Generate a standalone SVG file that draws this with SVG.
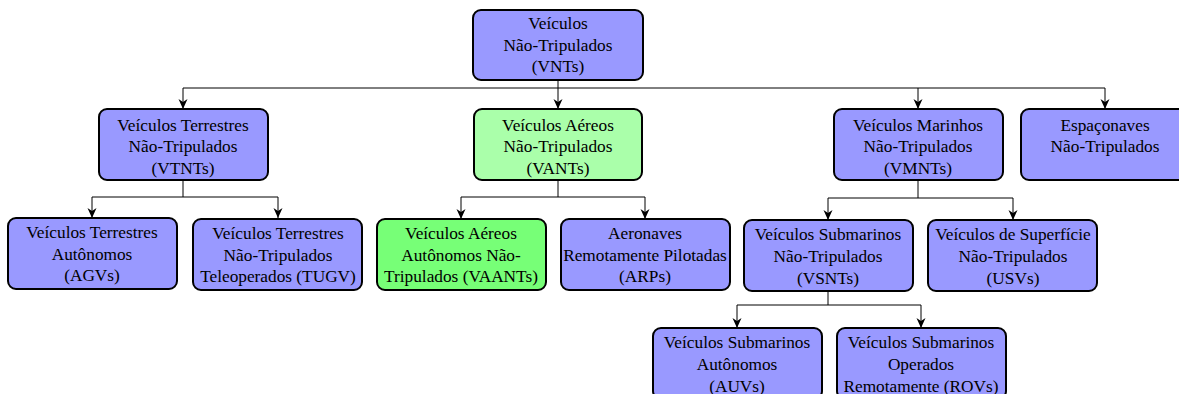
<svg xmlns="http://www.w3.org/2000/svg" width="1179" height="394" viewBox="0 0 1179 394">
  <style>
    .box { stroke: #000; stroke-width: 2; }
    .blue { fill: #9999ff; }
    .lgreen { fill: #aaffaa; }
    .green { fill: #77ff77; }
    .lbl { font-family: "Liberation Serif", "Times New Roman", serif; font-size: 17.3px; fill: #000; text-anchor: middle; }
    .wire { fill: none; stroke: #000; stroke-width: 1; }
  </style>
  <defs>
    <marker id="tip" markerUnits="userSpaceOnUse" markerWidth="10" markerHeight="12" viewBox="-5 -11 10 12" refX="0" refY="0" orient="0">
      <path d="M0,0 L-4.5,-10 L0,-7 L4.5,-10 Z" fill="#000"/>
    </marker>
  </defs>

  <rect width="1179" height="394" fill="#fff"/>

  <!-- connectors -->
  <g id="connectors">
    <path class="wire" d="M558,80 V88 M183,88 H1105"/>
    <path class="wire" d="M183,88 V109" marker-end="url(#tip)"/>
    <path class="wire" d="M558,88 V109" marker-end="url(#tip)"/>
    <path class="wire" d="M918,88 V109" marker-end="url(#tip)"/>
    <path class="wire" d="M1105,88 V109" marker-end="url(#tip)"/>

    <path class="wire" d="M183,180 V197 M92,197 H278"/>
    <path class="wire" d="M92,197 V218" marker-end="url(#tip)"/>
    <path class="wire" d="M278,197 V218" marker-end="url(#tip)"/>

    <path class="wire" d="M558,180 V197 M461,197 H645"/>
    <path class="wire" d="M461,197 V219" marker-end="url(#tip)"/>
    <path class="wire" d="M645,197 V219" marker-end="url(#tip)"/>

    <path class="wire" d="M918,180 V198 M828,198 H1013"/>
    <path class="wire" d="M828,198 V220" marker-end="url(#tip)"/>
    <path class="wire" d="M1013,198 V220" marker-end="url(#tip)"/>

    <path class="wire" d="M828,291 V305 M737,305 H921"/>
    <path class="wire" d="M737,305 V328" marker-end="url(#tip)"/>
    <path class="wire" d="M921,305 V328" marker-end="url(#tip)"/>
  </g>

  <!-- root -->
  <g id="vnt">
    <rect class="box blue" x="473" y="10" width="170" height="70" rx="8"/>
    <text class="lbl" x="558" y="29">Veículos</text>
    <text class="lbl" x="558" y="51">Não-Tripulados</text>
    <text class="lbl" x="558" y="72">(VNTs)</text>
  </g>

  <!-- second level -->
  <g id="vtnt">
    <rect class="box blue" x="99" y="109" width="169" height="71" rx="8"/>
    <text class="lbl" x="183" y="131">Veículos Terrestres</text>
    <text class="lbl" x="183" y="152">Não-Tripulados</text>
    <text class="lbl" x="183" y="174">(VTNTs)</text>
  </g>
  <g id="vant">
    <rect class="box lgreen" x="474" y="109" width="168" height="71" rx="8"/>
    <text class="lbl" x="558" y="131">Veículos Aéreos</text>
    <text class="lbl" x="558" y="152">Não-Tripulados</text>
    <text class="lbl" x="558" y="174">(VANTs)</text>
  </g>
  <g id="vmnt">
    <rect class="box blue" x="834" y="109" width="169" height="71" rx="8"/>
    <text class="lbl" x="918" y="131">Veículos Marinhos</text>
    <text class="lbl" x="918" y="152">Não-Tripulados</text>
    <text class="lbl" x="918" y="174">(VMNTs)</text>
  </g>
  <g id="espaconaves">
    <rect class="box blue" x="1021" y="109" width="168" height="71" rx="8"/>
    <text class="lbl" x="1105" y="131">Espaçonaves</text>
    <text class="lbl" x="1105" y="152">Não-Tripulados</text>
  </g>

  <!-- third level -->
  <g id="agv">
    <rect class="box blue" x="8" y="218" width="169" height="71" rx="8"/>
    <text class="lbl" x="92" y="238">Veículos Terrestres</text>
    <text class="lbl" x="92" y="260">Autônomos</text>
    <text class="lbl" x="92" y="281">(AGVs)</text>
  </g>
  <g id="tugv">
    <rect class="box blue" x="193" y="219" width="169" height="71" rx="8"/>
    <text class="lbl" x="278" y="239">Veículos Terrestres</text>
    <text class="lbl" x="278" y="261">Não-Tripulados</text>
    <text class="lbl" x="278" y="282">Teleoperados (TUGV)</text>
  </g>
  <g id="vaant">
    <rect class="box green" x="377" y="219" width="169" height="71" rx="8"/>
    <text class="lbl" x="461" y="239">Veículos Aéreos</text>
    <text class="lbl" x="461" y="261">Autônomos Não-</text>
    <text class="lbl" x="461" y="282">Tripulados (VAANTs)</text>
  </g>
  <g id="arp">
    <rect class="box blue" x="561" y="219" width="169" height="71" rx="8"/>
    <text class="lbl" x="645" y="239">Aeronaves</text>
    <text class="lbl" x="645" y="261">Remotamente Pilotadas</text>
    <text class="lbl" x="645" y="282">(ARPs)</text>
  </g>
  <g id="vsnt">
    <rect class="box blue" x="744" y="220" width="169" height="71" rx="8"/>
    <text class="lbl" x="828" y="240">Veículos Submarinos</text>
    <text class="lbl" x="828" y="262">Não-Tripulados</text>
    <text class="lbl" x="828" y="284">(VSNTs)</text>
  </g>
  <g id="usv">
    <rect class="box blue" x="928" y="220" width="169" height="71" rx="8"/>
    <text class="lbl" x="1013" y="240">Veículos de Superfície</text>
    <text class="lbl" x="1013" y="262">Não-Tripulados</text>
    <text class="lbl" x="1013" y="284">(USVs)</text>
  </g>

  <!-- fourth level -->
  <g id="auv">
    <rect class="box blue" x="653" y="328" width="169" height="71" rx="8"/>
    <text class="lbl" x="737" y="348">Veículos Submarinos</text>
    <text class="lbl" x="737" y="370">Autônomos</text>
    <text class="lbl" x="737" y="392">(AUVs)</text>
  </g>
  <g id="rov">
    <rect class="box blue" x="837" y="328" width="169" height="71" rx="8"/>
    <text class="lbl" x="921" y="348">Veículos Submarinos</text>
    <text class="lbl" x="921" y="370">Operados</text>
    <text class="lbl" x="921" y="392">Remotamente (ROVs)</text>
  </g>
</svg>
